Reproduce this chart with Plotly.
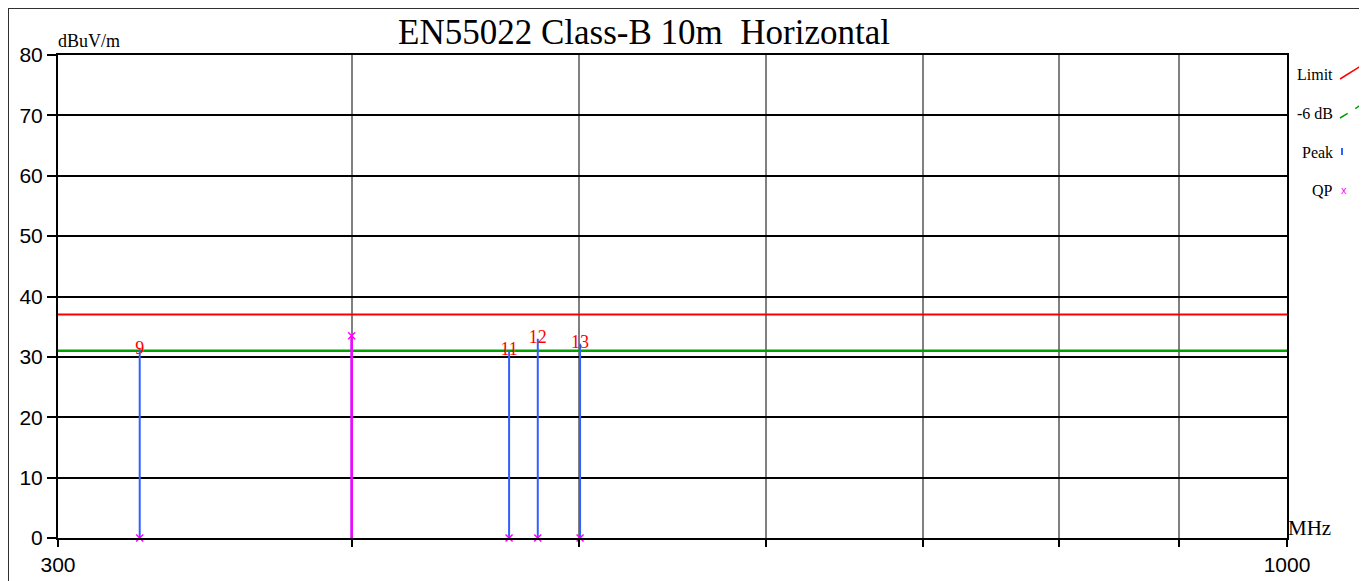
import plotly.graph_objects as go

# ---- data ----
freq_range = [300, 1000]
limit_level = 37.0
margin_level = 31.0  # -6 dB line
peak_freqs = [325.0, 400.0, 466.7, 480.0, 500.3]
peak_vals = [31.3, 33.0, 31.0, 33.0, 32.2]
peak_labels = ["9", "", "11", "12", "13"]
qp_freqs = [300.0, 325.0, 400.0, 466.7, 480.0, 500.3]
qp_vals = [0.0, 0.0, 33.5, 0.0, 0.0, 0.0]
y_ticks = [0, 10, 20, 30, 40, 50, 60, 70, 80]
x_ticks = [300, 400, 500, 600, 700, 800, 900, 1000]
x_ticktext = ["300", "", "", "", "", "", "", "1000"]
title_text = "EN55022 Class-B 10m  Horizontal"
legend_items = ["Limit", "-6 dB", "Peak", "QP"]
legend_colors = ["#ff0000", "#00a000", "#3060ff", "#ff00ff"]

SERIF = "Liberation Serif, Times New Roman, serif"
SANS = "Liberation Sans, Arial, sans-serif"

fig = go.Figure()

# limit lines
fig.add_trace(go.Scatter(x=freq_range, y=[limit_level] * 2, mode="lines",
                         line=dict(color="#ff0000", width=2), hoverinfo="skip"))
fig.add_trace(go.Scatter(x=freq_range, y=[margin_level] * 2, mode="lines",
                         line=dict(color="#00a000", width=2.5), hoverinfo="skip"))

# peak stems
px, py = [], []
for f, v in zip(peak_freqs, peak_vals):
    px += [f, f, None]
    py += [0, v, None]
fig.add_trace(go.Scatter(x=px, y=py, mode="lines",
                         line=dict(color="#3060ff", width=2), hoverinfo="skip"))

# QP stems and markers
qx, qy = [], []
for f, v in zip(qp_freqs, qp_vals):
    if v > 0:
        qx += [f, f, None]
        qy += [0, v, None]
fig.add_trace(go.Scatter(x=qx, y=qy, mode="lines",
                         line=dict(color="#ff00ff", width=2.5), hoverinfo="skip"))
fig.add_trace(go.Scatter(x=qp_freqs, y=qp_vals, mode="markers",
                         marker=dict(symbol="x-thin", size=7, color="#ff00ff",
                                     line=dict(color="#ff00ff", width=1.5)),
                         hoverinfo="skip", cliponaxis=False))

# peak labels
fig.add_trace(go.Scatter(x=peak_freqs, y=peak_vals, mode="text", text=peak_labels,
                         textposition="middle center",
                         textfont=dict(family=SERIF, size=18, color="#ff0000"),
                         hoverinfo="skip", cliponaxis=False))

# helpers for paper coordinates of plot area (plot spans x 58..1287, y 55..538 on screen)
def pxx(x):
    return (x - 58) / 1229.0

def pxy(y):
    return (538 - y) / 483.0

shapes = []
# outer frame
shapes.append(dict(type="rect", xref="paper", yref="paper",
                   x0=pxx(8), x1=pxx(1362), y0=pxy(620), y1=pxy(8),
                   line=dict(color="#303030", width=2), layer="below"))

annotations = []
annotations.append(dict(text=title_text, xref="paper", yref="paper",
                        x=pxx(644), y=pxy(33), showarrow=False,
                        font=dict(family=SERIF, size=35, color="#000000"),
                        xanchor="center", yanchor="middle"))
annotations.append(dict(text="dBuV/m", xref="paper", yref="paper",
                        x=pxx(56), y=pxy(41), showarrow=False,
                        font=dict(family=SERIF, size=18, color="#000000"),
                        xanchor="left", yanchor="middle"))
annotations.append(dict(text="MHz", xref="paper", yref="paper",
                        x=pxx(1286), y=pxy(528), showarrow=False,
                        font=dict(family=SERIF, size=21, color="#000000"),
                        xanchor="left", yanchor="middle"))

# legend (custom)
leg_y = [74, 113, 152, 190]
for i, (name, col) in enumerate(zip(legend_items, legend_colors)):
    yy = leg_y[i]
    annotations.append(dict(text=name, xref="paper", yref="paper",
                            x=pxx(1335), y=pxy(yy), showarrow=False,
                            font=dict(family=SERIF, size=16, color="#000000"),
                            xanchor="right", yanchor="middle"))
    if i < 2:
        shapes.append(dict(type="line", xref="paper", yref="paper",
                           x0=pxx(1340), x1=pxx(1361), y0=pxy(yy + 5), y1=pxy(yy - 8),
                           line=dict(color=col, width=1.5, dash="dash" if i == 1 else "solid")))
    elif i == 2:
        shapes.append(dict(type="line", xref="paper", yref="paper",
                           x0=pxx(1342), x1=pxx(1342), y0=pxy(yy + 3), y1=pxy(yy - 4),
                           line=dict(color=col, width=2)))
    else:
        annotations.append(dict(text="x", xref="paper", yref="paper",
                                x=pxx(1344), y=pxy(yy), showarrow=False,
                                font=dict(family=SANS, size=11, color=col),
                                xanchor="center", yanchor="middle"))

fig.update_layout(
    width=1367, height=581,
    margin=dict(l=50, r=88, t=47, b=51),
    paper_bgcolor="white", plot_bgcolor="white",
    showlegend=False,
    shapes=shapes, annotations=annotations,
    xaxis=dict(type="log", range=[2.4771213, 3.0], tickvals=x_ticks, ticktext=x_ticktext,
               showgrid=True, gridcolor="#808080", gridwidth=1.5,
               ticks="outside", ticklen=7, tickwidth=1.5, tickcolor="#000000",
               showline=True, linecolor="#000000", linewidth=2, mirror=True,
               tickfont=dict(family=SANS, size=21, color="#000000"),
               zeroline=False),
    yaxis=dict(range=[0, 80], tickvals=y_ticks,
               showgrid=True, gridcolor="#000000", gridwidth=2,
               ticks="outside", ticklen=9, tickwidth=1.5, tickcolor="#000000",
               showline=True, linecolor="#000000", linewidth=2, mirror=True,
               tickfont=dict(family=SANS, size=21, color="#000000"),
               zeroline=False),
)

fig.write_html("out.html")
